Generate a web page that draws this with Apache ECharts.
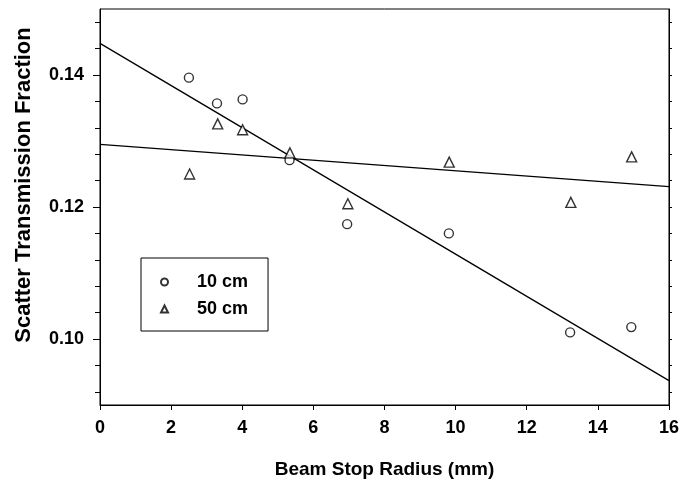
<!DOCTYPE html>
<html>
<head>
<meta charset="utf-8">
<script src="https://cdn.jsdelivr.net/npm/echarts@6/dist/echarts.min.js"></script>
<style>
  html, body { margin: 0; padding: 0; background: #fff; }
  #chart { width: 682px; height: 484px; }
</style>
</head>
<body>
<div id="chart"></div>
<script>
// data
var pts10cm = [[2.50, 0.1396], [3.29, 0.1357], [4.01, 0.1363], [5.33, 0.1271], [6.95, 0.1174],
               [9.81, 0.1160], [13.22, 0.1010], [14.94, 0.1018]];
var pts50cm = [[2.52, 0.1250], [3.31, 0.1326], [4.01, 0.1317], [5.34, 0.1282], [6.97, 0.1205],
               [9.82, 0.1268], [13.24, 0.1207], [14.95, 0.1276]];
// fitted lines, end points
var fit10cm = [[0, 0.1448], [16, 0.0937]];
var fit50cm = [[0, 0.1295], [16, 0.1231]];

var yMajor = [0.10, 0.12, 0.14];
var yMinor = [0.092, 0.096, 0.104, 0.108, 0.112, 0.116, 0.124, 0.128, 0.132, 0.136, 0.144, 0.148];
var yAll = [0.092, 0.096, 0.10, 0.104, 0.108, 0.112, 0.116, 0.12, 0.124, 0.128, 0.132, 0.136, 0.14, 0.144, 0.148];

var font = 'Liberation Sans, Arial, sans-serif';
var myChart = echarts.init(document.getElementById('chart'));

var hollow = { color: '#fff', borderColor: '#000', borderWidth: 1.4 };

var option = {
    animation: false,
    backgroundColor: '#fff',
    grid: { left: 100, right: 10, top: 9, bottom: 76, show: true, borderColor: '#000', borderWidth: 1 },
    legend: {
        orient: 'vertical',
        left: 141,
        top: 258,
        data: ['10 cm', '50 cm'],
        itemWidth: 7,
        itemHeight: 7,
        itemGap: 9,
        padding: [15, 20, 13, 19],
        borderColor: '#000',
        borderWidth: 1,
        textStyle: { fontFamily: font, fontSize: 18, fontWeight: 'bold', color: '#000', padding: [0, 0, 0, 24] }
    },
    xAxis: {
        type: 'value',
        min: 0,
        max: 16,
        interval: 2,
        name: 'Beam Stop Radius (mm)',
        nameLocation: 'middle',
        nameGap: 55,
        nameTextStyle: { fontFamily: font, fontSize: 19, fontWeight: 'bold', color: '#000' },
        axisLine: { show: true, lineStyle: { color: '#000', width: 1 } },
        axisTick: { show: true, length: 5, lineStyle: { color: '#000' } },
        axisLabel: { fontFamily: font, fontSize: 18, fontWeight: 'bold', color: '#000', margin: 14 },
        splitLine: { show: false }
    },
    yAxis: [
        {
            type: 'value',
            min: 0.09,
            max: 0.15,
            position: 'left',
            name: 'Scatter Transmission Fraction',
            nameLocation: 'middle',
            nameGap: 65,
            nameTextStyle: { fontFamily: font, fontSize: 22, fontWeight: 'bold', color: '#000', padding: [0, 0, 0, 44] },
            axisLine: { show: true, lineStyle: { color: '#000', width: 1 } },
            axisTick: { show: true, length: 7, customValues: yMajor, lineStyle: { color: '#000' } },
            axisLabel: {
                customValues: yMajor, fontFamily: font, fontSize: 18, fontWeight: 'bold', color: '#000', margin: 16,
                formatter: function (v) { return v.toFixed(2); }
            },
            splitLine: { show: false }
        },
        {
            type: 'value',
            min: 0.09,
            max: 0.15,
            position: 'left',
            axisLine: { show: false },
            axisTick: { show: true, length: 5, customValues: yMinor, lineStyle: { color: '#000' } },
            axisLabel: { show: false },
            splitLine: { show: false }
        },
        {
            type: 'value',
            min: 0.09,
            max: 0.15,
            position: 'right',
            axisLine: { show: true, lineStyle: { color: '#000', width: 1 } },
            axisTick: { show: true, length: 3, customValues: yAll, lineStyle: { color: '#000' } },
            axisLabel: { show: false },
            splitLine: { show: false }
        }
    ],
    series: [
        {
            name: '10 cm fit',
            type: 'line',
            data: fit10cm,
            showSymbol: false,
            symbol: 'none',
            lineStyle: { color: '#000', width: 1.3 },
            z: 2
        },
        {
            name: '50 cm fit',
            type: 'line',
            data: fit50cm,
            showSymbol: false,
            symbol: 'none',
            lineStyle: { color: '#000', width: 1.3 },
            z: 2
        },
        {
            name: '10 cm',
            type: 'scatter',
            data: pts10cm,
            symbol: 'circle',
            symbolSize: 9,
            itemStyle: hollow,
            z: 3
        },
        {
            name: '50 cm',
            type: 'scatter',
            data: pts50cm,
            symbol: 'triangle',
            symbolSize: 10,
            itemStyle: hollow,
            z: 3
        }
    ]
};
myChart.setOption(option);
</script>
</body>
</html>
